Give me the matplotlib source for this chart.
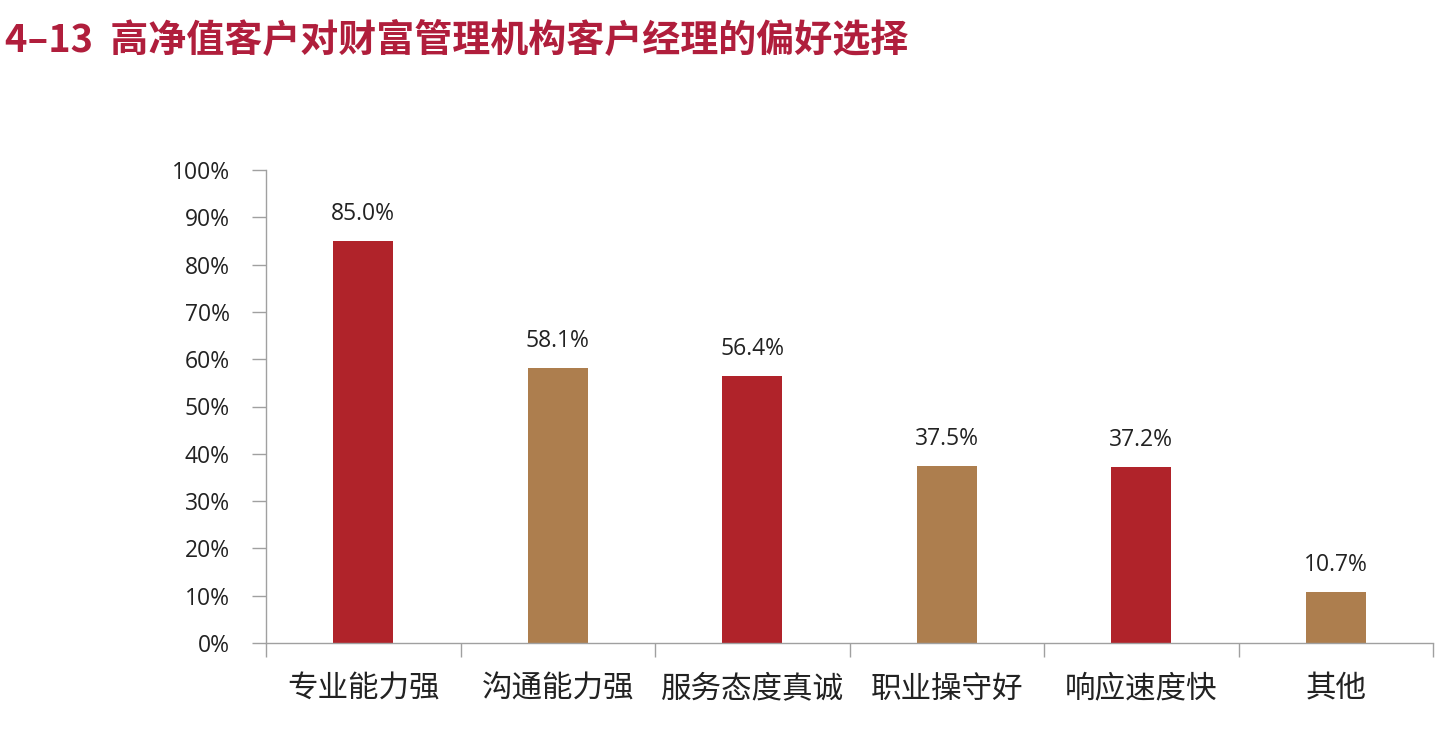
import matplotlib
matplotlib.use("Agg")
import matplotlib.pyplot as plt
import numpy as np
from matplotlib.ticker import MultipleLocator, FuncFormatter

plt.rcParams['font.family'] = ['Noto Sans CJK SC', 'DejaVu Sans']
num_font = ['Open Sans', 'Noto Sans CJK SC']

categories = ['专业能力强', '沟通能力强', '服务态度真诚', '职业操守好', '响应速度快', '其他']
values = [85.0, 58.1, 56.4, 37.5, 37.2, 10.7]
colors = ['#B0232A', '#AD7E4E', '#B0232A', '#AD7E4E', '#B0232A', '#AD7E4E']
title = '4–13  高净值客户对财富管理机构客户经理的偏好选择'

fig = plt.figure(figsize=(14.46, 7.36), dpi=100)
ax = fig.add_axes([266/1446, 1-643/736, (1433-266)/1446, (643-170)/736])

x = np.arange(len(categories))
ax.bar(x, values, width=0.31, color=colors)
for xi, v in zip(x, values):
    ax.annotate('%.1f%%' % v, (xi, v), xytext=(0, 19.5), textcoords='offset points',
                ha='center', va='center', fontsize=16.5, color='#222222',
                family=num_font)

ax.set_xlim(-0.5, len(categories) - 0.5)
ax.set_ylim(0, 100)
ax.yaxis.set_major_locator(MultipleLocator(10))
ax.yaxis.set_major_formatter(FuncFormatter(lambda v, p: '%d%%' % v))
ax.set_xticks(x)
ax.set_xticklabels(categories, fontsize=22, color='#222222')
ax.set_xticks(np.arange(len(categories) + 1) - 0.5, minor=True)
ax.tick_params(axis='x', which='major', length=0, pad=22)
ax.tick_params(axis='x', which='minor', length=10, color='#A0A0A0', width=1)
ax.tick_params(axis='y', length=10, color='#A0A0A0', width=1, labelsize=16.5,
               labelcolor='#222222', pad=16)
for lbl in ax.get_yticklabels():
    lbl.set_family(num_font)

for s in ['top', 'right']:
    ax.spines[s].set_visible(False)
for s in ['left', 'bottom']:
    ax.spines[s].set_color('#A0A0A0')
    ax.spines[s].set_linewidth(1)

fig.text(5/1446, 1-40/736, title, fontsize=27.4, fontweight='bold',
         color='#B01E3C', ha='left', va='center')

fig.savefig('out.png', dpi=100)
